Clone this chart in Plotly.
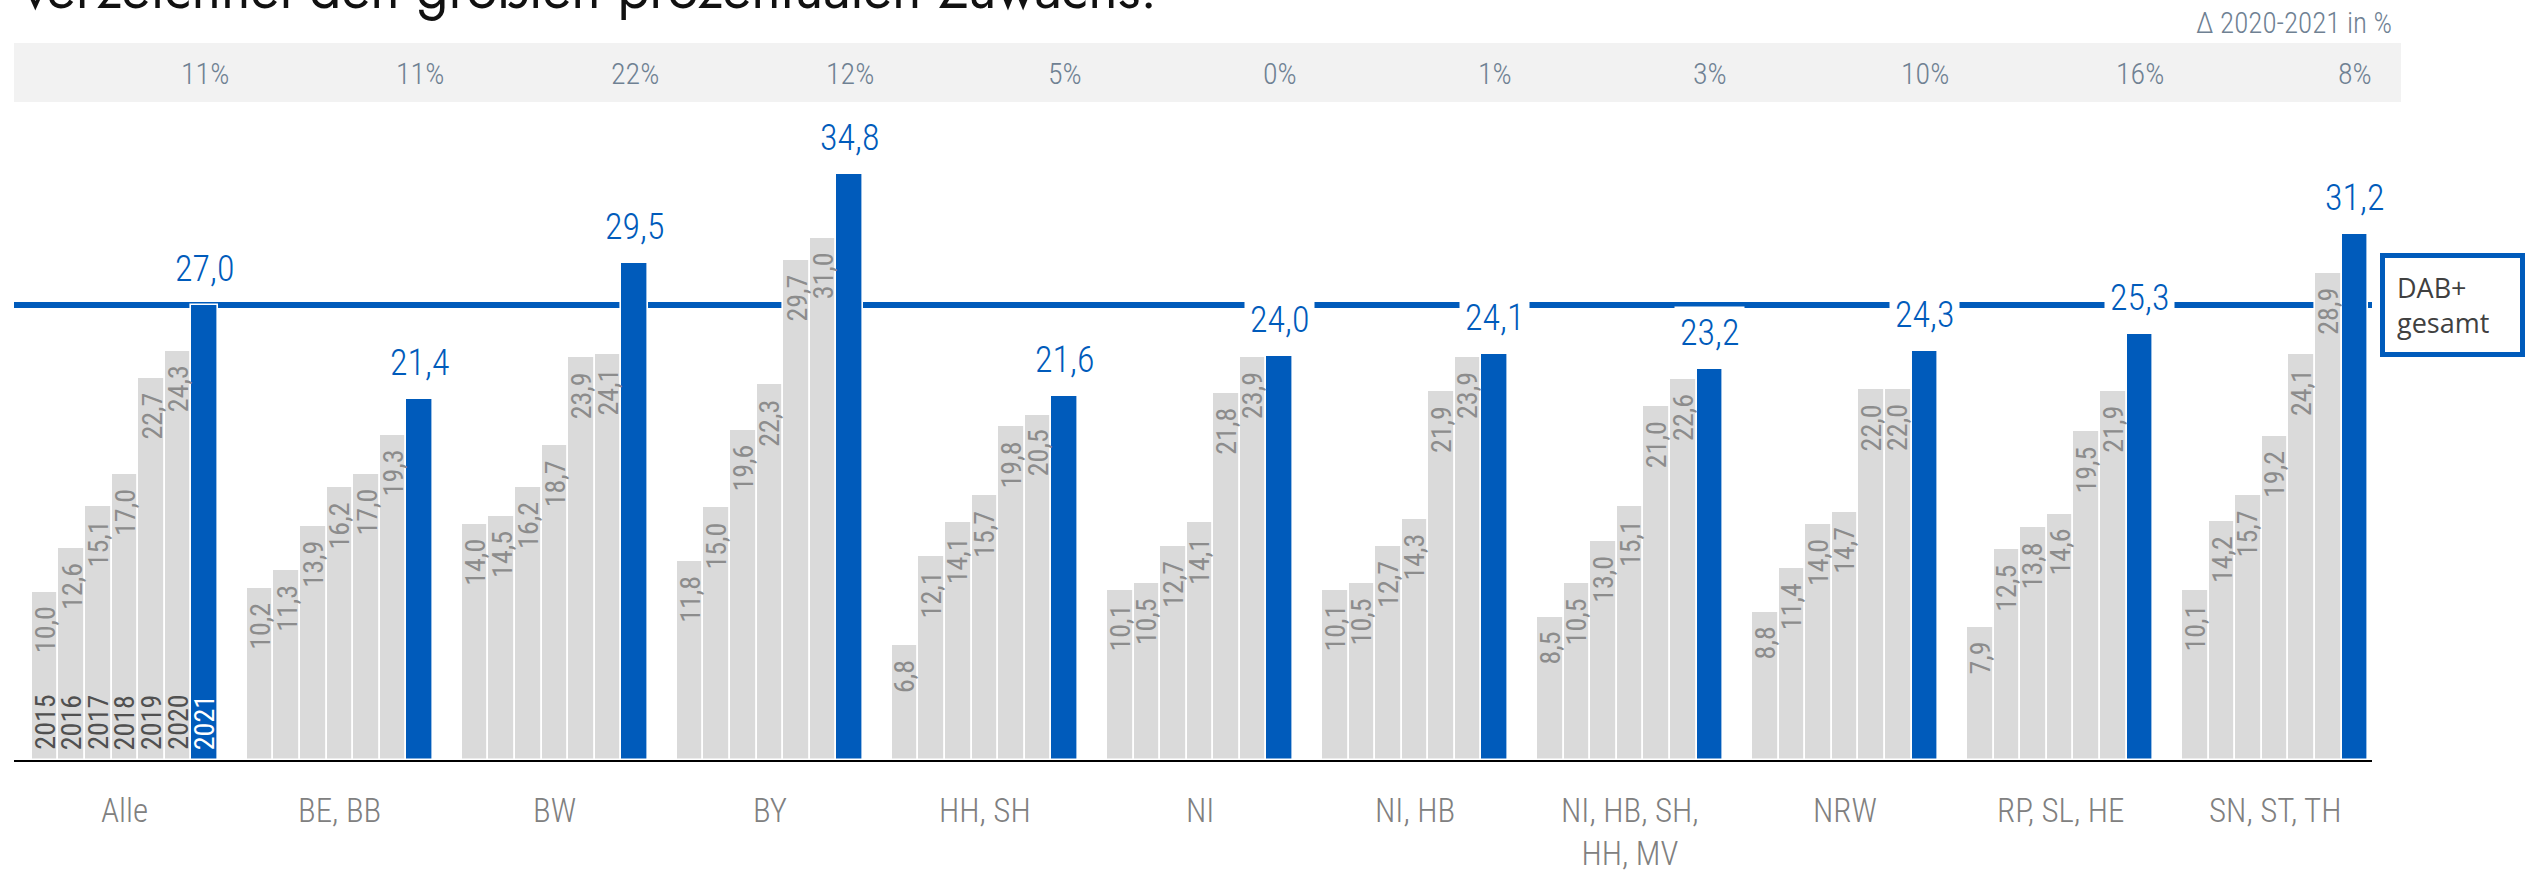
import plotly.graph_objects as go

categories = ["Alle", "BE, BB", "BW", "BY", "HH, SH", "NI", "NI, HB",
              "NI, HB, SH,<br>HH, MV", "NRW", "RP, SL, HE", "SN, ST, TH"]
years = ["2015", "2016", "2017", "2018", "2019", "2020", "2021"]
v2015 = [10.0, 10.2, 14.0, 11.8, 6.8, 10.1, 10.1, 8.5, 8.8, 7.9, 10.1]
v2016 = [12.6, 11.3, 14.5, 15.0, 12.1, 10.5, 10.5, 10.5, 11.4, 12.5, 14.2]
v2017 = [15.1, 13.9, 16.2, 19.6, 14.1, 12.7, 12.7, 13.0, 14.0, 13.8, 15.7]
v2018 = [17.0, 16.2, 18.7, 22.3, 15.7, 14.1, 14.3, 15.1, 14.7, 14.6, 19.2]
v2019 = [22.7, 17.0, 23.9, 29.7, 19.8, 21.8, 21.9, 21.0, 22.0, 19.5, 24.1]
v2020 = [24.3, 19.3, 24.1, 31.0, 20.5, 23.9, 23.9, 22.6, 22.0, 21.9, 28.9]
v2021 = [27.0, 21.4, 29.5, 34.8, 21.6, 24.0, 24.1, 23.2, 24.3, 25.3, 31.2]
delta = ["11%", "11%", "22%", "12%", "5%", "0%", "1%", "3%", "10%", "16%", "8%"]
dab_gesamt = 27.0
title_text = "verzeichnet den größten prozentualen Zuwachs."
delta_title = "Δ 2020-2021 in %"
box_text = "DAB+<br>gesamt"

series = [v2015, v2016, v2017, v2018, v2019, v2020, v2021]

BLUE = "rgb(0,91,187)"
GRAY = "#DADADA"
COND = "Roboto Condensed, Arial Narrow, sans-serif"

W, H = 2538, 875
ML, MR, MT, MB = 14, 166, 0, 115
PW = W - ML - MR
PH = H - MT - MB
BW = 0.1237  # bar pitch in category units


def fmt(v):
    return f"{v:.1f}".replace(".", ",")


fig = go.Figure()
group_idx = list(range(len(categories)))

for j, (yr, vals) in enumerate(zip(years, series)):
    xs = [g + (j - 3) * BW for g in group_idx]
    fig.add_trace(go.Bar(
        x=xs, y=vals, width=BW, name=yr,
        marker=dict(color=BLUE if j == 6 else GRAY,
                    line=dict(color="white", width=1.6)),
        hoverinfo="skip", showlegend=False,
    ))

annotations = []
# grey value labels (rotated, inside the bars near the top)
for j, vals in enumerate(series[:6]):
    for g, v in zip(group_idx, vals):
        annotations.append(dict(
            x=g + (j - 3) * BW, y=v, xref="x", yref="y",
            text=fmt(v), textangle=-90, showarrow=False,
            xanchor="center", yanchor="top", yshift=-13,
            font=dict(family=COND, size=28, color="#8C8C8C", weight=400),
        ))
# blue 2021 values above the bars
for g, v in zip(group_idx, v2021):
    annotations.append(dict(
        x=g + 3 * BW, y=v, xref="x", yref="y",
        text=fmt(v), showarrow=False,
        xanchor="center", yanchor="bottom", yshift=9,
        bgcolor="white", borderpad=5,
        font=dict(family=COND, size=36, color=BLUE, weight=300),
    ))
# year labels in the first group
for j, yr in enumerate(years):
    annotations.append(dict(
        x=0 + (j - 3) * BW, y=0, xref="x", yref="y",
        text=yr, textangle=-90, showarrow=False,
        xanchor="center", yanchor="bottom", yshift=8,
        font=dict(family=COND, size=28,
                  color="white" if j == 6 else "#505050", weight=400),
    ))
# delta labels in grey band
for g, d in zip(group_idx, delta):
    annotations.append(dict(
        x=g + 3 * BW, y=(PH - 73) / PH, xref="x", yref="paper",
        text=d, showarrow=False, xanchor="center", yanchor="middle",
        font=dict(family=COND, size=30, color="#6F8193", weight=300),
    ))
# category labels
for g, c in zip(group_idx, categories):
    annotations.append(dict(
        x=g, y=0, xref="x", yref="y", text=c, showarrow=False,
        xanchor="center", yanchor="top", yshift=-29,
        font=dict(family=COND, size=33, color="#808080", weight=300),
    ))

# delta header
annotations.append(dict(
    x=(2394 - ML) / PW, y=(PH - 23) / PH, xref="paper", yref="paper",
    text=delta_title, showarrow=False, xanchor="right", yanchor="middle",
    font=dict(family=COND, size=29, color="#6F8193", weight=300),
))
# cropped title
annotations.append(dict(
    x=(21 - ML) / PW, y=1, xref="paper", yref="paper",
    text=title_text, showarrow=False, xanchor="left", yanchor="bottom",
    yshift=-31,
    font=dict(family="Jost, Lato, sans-serif", size=56, color="#111111"),
))
# DAB+ gesamt box
annotations.append(dict(
    x=(2452 - ML) / PW, y=dab_gesamt, xref="paper", yref="y",
    text=box_text, showarrow=False, xanchor="center", yanchor="middle",
    align="left", width=111, height=70, borderpad=12,
    bordercolor=BLUE, borderwidth=5, bgcolor="white",
    font=dict(family="Open Sans, Noto Sans, sans-serif", size=27, color="#404040"),
))

shapes = [
    dict(type="rect", xref="paper", yref="paper",
         x0=0, x1=(2401 - ML) / PW,
         y0=(PH - 102) / PH, y1=(PH - 43) / PH,
         fillcolor="#F2F2F2", line=dict(width=0), layer="below"),
    dict(type="line", xref="paper", yref="y", x0=0, x1=1,
         y0=dab_gesamt, y1=dab_gesamt,
         line=dict(color=BLUE, width=6), layer="below"),
]

fig.update_layout(
    width=W, height=H,
    margin=dict(l=ML, r=MR, t=MT, b=MB),
    paper_bgcolor="white", plot_bgcolor="white",
    barmode="overlay", bargap=0,
    xaxis=dict(range=[-0.516, 10.451], showgrid=False, zeroline=False,
               showticklabels=False, ticks="", showline=True,
               linecolor="black", linewidth=2, fixedrange=True),
    yaxis=dict(range=[0, PH / 16.85], visible=False, showgrid=False,
               zeroline=False, fixedrange=True),
    annotations=annotations, shapes=shapes,
    showlegend=False, hovermode=False,
)

fig.write_html(
    "out.html",
    config={"displayModeBar": False},
    post_script="document.body.style.margin='0';document.body.style.overflow='hidden';",
)
